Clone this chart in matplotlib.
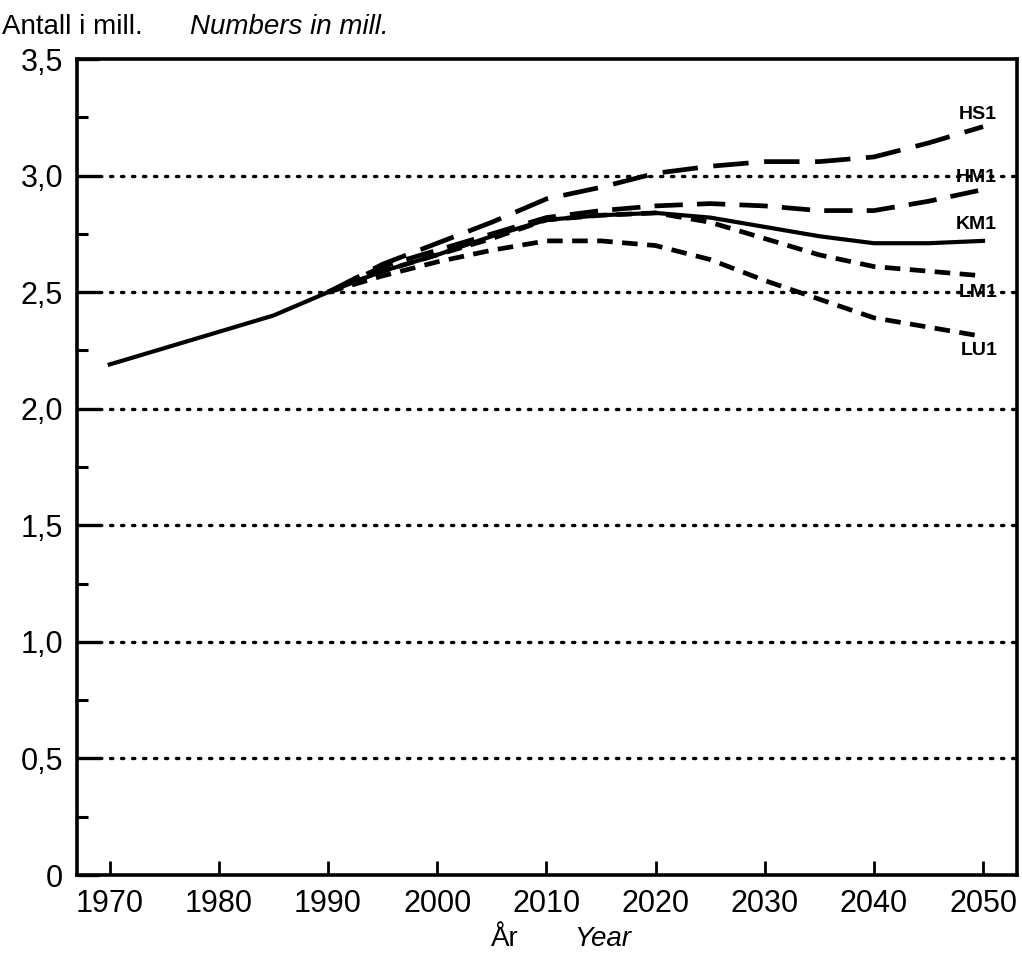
import numpy as np
import matplotlib.pyplot as plt

plt.rcParams['font.family'] = ['Liberation Sans', 'DejaVu Sans']

# registered + KM1 (main alternative)
years_km1 = [1970, 1975, 1980, 1985, 1990, 1995, 2000, 2005, 2010, 2015, 2020, 2025, 2030, 2035, 2040, 2045, 2050]
km1 = [2.19, 2.26, 2.33, 2.40, 2.50, 2.59, 2.66, 2.74, 2.81, 2.83, 2.84, 2.82, 2.78, 2.74, 2.71, 2.71, 2.72]

years_proj = [1990, 1995, 2000, 2005, 2010, 2015, 2020, 2025, 2030, 2035, 2040, 2045, 2050]
hs1 = [2.50, 2.62, 2.71, 2.80, 2.90, 2.95, 3.01, 3.04, 3.06, 3.06, 3.08, 3.14, 3.21]
hm1 = [2.50, 2.61, 2.68, 2.75, 2.82, 2.85, 2.87, 2.88, 2.87, 2.85, 2.85, 2.89, 2.94]
lm1 = [2.50, 2.59, 2.66, 2.73, 2.81, 2.83, 2.84, 2.80, 2.73, 2.66, 2.61, 2.59, 2.57]
lu1 = [2.50, 2.57, 2.63, 2.68, 2.72, 2.72, 2.70, 2.64, 2.55, 2.47, 2.39, 2.35, 2.31]

labels = ['HS1', 'HM1', 'KM1', 'LM1', 'LU1']
label_y = [3.26, 2.99, 2.79, 2.50, 2.25]

yticks = [0, 0.5, 1.0, 1.5, 2.0, 2.5, 3.0, 3.5]
ytick_labels = ['0', '0,5', '1,0', '1,5', '2,0', '2,5', '3,0', '3,5']
xticks = [1970, 1980, 1990, 2000, 2010, 2020, 2030, 2040, 2050]

fig = plt.figure(figsize=(10.22, 9.6), dpi=100)
ax = fig.add_axes([0.0753, 0.0885, 0.9197, 0.85])

# dotted gridlines
for v in yticks[1:-1]:
    ax.plot([1969.0, 2053], [v, v], color='black', lw=2.4,
            linestyle=(0, (0.7, 2.6)), dash_capstyle='round', zorder=1)

ax.plot(years_proj, hs1, color='black', lw=3.4, linestyle=(0, (7.5, 3.3)), zorder=3)
ax.plot(years_proj, hm1, color='black', lw=3.4, linestyle=(0, (6.0, 3.0)), zorder=3)
ax.plot(years_proj, lm1, color='black', lw=3.4, linestyle=(0, (3.3, 2.0)), zorder=3)
ax.plot(years_proj, lu1, color='black', lw=3.4, linestyle=(0, (3.3, 2.0)), zorder=3)
ax.plot(years_km1, km1, color='black', lw=3.0, zorder=4)

for lab, yy in zip(labels, label_y):
    ax.text(2051.3, yy, lab, fontsize=14, fontweight='bold', ha='right',
            va='center', zorder=5)

ax.set_xlim(1967, 2053.1)
ax.set_ylim(0, 3.5)
ax.set_xticks(xticks)
ax.set_xticklabels([str(x) for x in xticks])
ax.set_yticks(yticks)
ax.set_yticklabels(ytick_labels)
ax.set_yticks(np.arange(0.25, 3.5, 0.5), minor=True)
ax.tick_params(axis='y', which='major', direction='in', length=16, width=2.4,
               labelsize=22, pad=10)
ax.tick_params(axis='y', which='minor', direction='in', length=8, width=2.2)
ax.tick_params(axis='x', which='major', direction='in', length=10, width=2.0,
               labelsize=22, pad=10)
for s in ax.spines.values():
    s.set_linewidth(2.6)

fig.text(0.002, 0.972, 'Antall i mill.', fontsize=20, ha='left', va='center')
fig.text(0.186, 0.972, 'Numbers in mill.', fontsize=20, ha='left', va='center',
         style='italic')
fig.text(0.494, 0.022, 'År', fontsize=20, ha='center', va='center')
fig.text(0.590, 0.022, 'Year', fontsize=20, ha='center', va='center', style='italic')

fig.savefig('out.png', dpi=100)
